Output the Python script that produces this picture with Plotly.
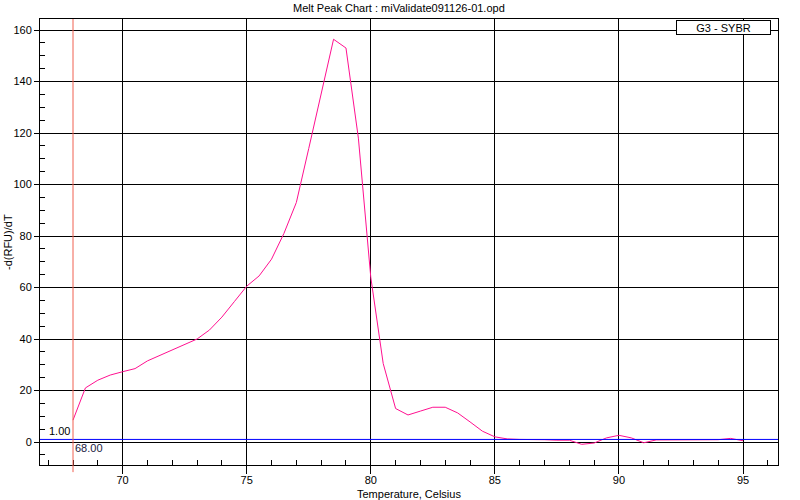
import plotly.graph_objects as go

# Data
temperature = [68.0, 68.5, 69.0, 69.5, 70.0, 70.5, 71.0, 71.5, 72.0, 72.5,
               73.0, 73.5, 74.0, 74.5, 75.0, 75.5, 76.0, 76.5, 77.0, 77.5,
               78.0, 78.5, 79.0, 79.5, 80.0, 80.5, 81.0, 81.5, 82.0, 82.5,
               83.0, 83.5, 84.0, 84.5, 85.0, 85.5, 86.0, 86.5, 87.0, 87.5,
               88.0, 88.5, 89.0, 89.5, 90.0, 90.5, 91.0, 91.5, 92.0, 92.5,
               93.0, 93.5, 94.0, 94.5, 95.0]
neg_drfu_dt = [8.5, 21.0, 24.0, 26.0, 27.3, 28.5, 31.5, 33.6, 36.0, 37.8,
               40.0, 43.5, 48.5, 54.5, 60.5, 64.5, 71.0, 81.0, 93.0, 114.0,
               135.0, 156.4, 153.0, 118.0, 64.0, 30.5, 13.0, 10.5, 12.0, 13.5,
               13.5, 11.3, 7.8, 4.2, 2.0, 1.2, 1.0, 1.0, 0.9, 0.7,
               0.7, -0.9, -0.4, 1.6, 2.6, 1.6, -0.3, 0.8, 0.8, 0.7,
               0.7, 0.7, 0.9, 1.4, 0.5]

series_name = "G3 - SYBR"
threshold_value = 1.00
begin_temperature = 68.00
chart_title = "Melt Peak Chart : miValidate091126-01.opd"
x_title = "Temperature, Celsius"
y_title = "-d(RFU)/dT"

FONT = "Liberation Sans, Arial, sans-serif"

fig = go.Figure()
fig.add_trace(go.Scatter(
    x=temperature, y=neg_drfu_dt, mode="lines",
    line=dict(color="#FF1090", width=1),
    name=series_name, showlegend=False, hoverinfo="skip",
))

fig.update_layout(
    template="none",
    width=800, height=500,
    margin=dict(l=40, r=22, t=19, b=35, autoexpand=False),
    paper_bgcolor="white", plot_bgcolor="white",
    font=dict(family=FONT, size=11, color="black"),
    showlegend=False,
)

fig.update_xaxes(
    automargin=False,
    range=[66.67, 96.41],
    tickmode="linear", tick0=70, dtick=5,
    showgrid=True, gridcolor="black", gridwidth=1,
    zeroline=False,
    showline=True, linecolor="black", linewidth=1, mirror=True,
    ticks="outside", ticklen=8, tickcolor="black", tickwidth=1,
    ticklabelstandoff=-3,
    tickfont=dict(family=FONT, size=11, color="black"),
    minor=dict(dtick=1, tick0=70, ticks="inside", ticklen=5, tickcolor="black", tickwidth=1, showgrid=False),
)
fig.update_yaxes(
    automargin=False,
    range=[-8.93, 164.27],
    tickmode="linear", tick0=0, dtick=20,
    showgrid=True, gridcolor="black", gridwidth=1,
    zeroline=True, zerolinecolor="black", zerolinewidth=1,
    showline=True, linecolor="black", linewidth=1, mirror=True,
    ticks="outside", ticklen=5, tickcolor="black", tickwidth=1,
    tickfont=dict(family=FONT, size=11, color="black"),
    minor=dict(dtick=5, tick0=0, ticks="inside", ticklen=5, tickcolor="black", tickwidth=1, showgrid=False),
)

# threshold line (blue) and begin-temperature line (red)
fig.add_shape(type="line", xref="paper", yref="y", x0=0, x1=1,
              y0=threshold_value, y1=threshold_value,
              line=dict(color="#0000FF", width=1), layer="above")
fig.add_shape(type="line", xref="x", yref="paper",
              x0=begin_temperature, x1=begin_temperature, y0=-0.016, y1=1,
              line=dict(color="#F06050", width=1), layer="above")

annotations = [
    dict(text=chart_title, xref="paper", yref="paper", x=0.487, y=1,
         yshift=11, xanchor="center", yanchor="middle", showarrow=False,
         font=dict(family=FONT, size=11, color="black")),
    dict(text=x_title, xref="paper", yref="paper", x=0.5, y=0,
         yshift=-29, xanchor="center", yanchor="middle", showarrow=False,
         font=dict(family=FONT, size=11, color="black")),
    dict(text=y_title, xref="paper", yref="paper", x=0, y=0.5,
         xshift=-32, xanchor="center", yanchor="middle", textangle=-90,
         showarrow=False, font=dict(family=FONT, size=11, color="black")),
    dict(text=f"{threshold_value:.2f}", xref="x", yref="y",
         x=begin_temperature, y=threshold_value, xanchor="right", yanchor="bottom",
         xshift=-1, yshift=0, showarrow=False,
         font=dict(family=FONT, size=11, color="black")),
    dict(text=f"{begin_temperature:.2f}", xref="x", yref="y",
         x=begin_temperature, y=threshold_value, xanchor="left", yanchor="top",
         xshift=0, yshift=-1, showarrow=False,
         font=dict(family=FONT, size=11, color="#202040")),
    dict(text=series_name, xref="paper", yref="paper", x=0.926, y=0.982,
         xanchor="center", yanchor="middle", showarrow=False,
         width=91, height=11, bordercolor="black", borderwidth=1,
         bgcolor="white", borderpad=1,
         font=dict(family=FONT, size=11, color="black")),
]
fig.update_layout(annotations=annotations)

fig.write_html("out.html", config={"displayModeBar": False},
               post_script="document.body.style.margin='0';")
